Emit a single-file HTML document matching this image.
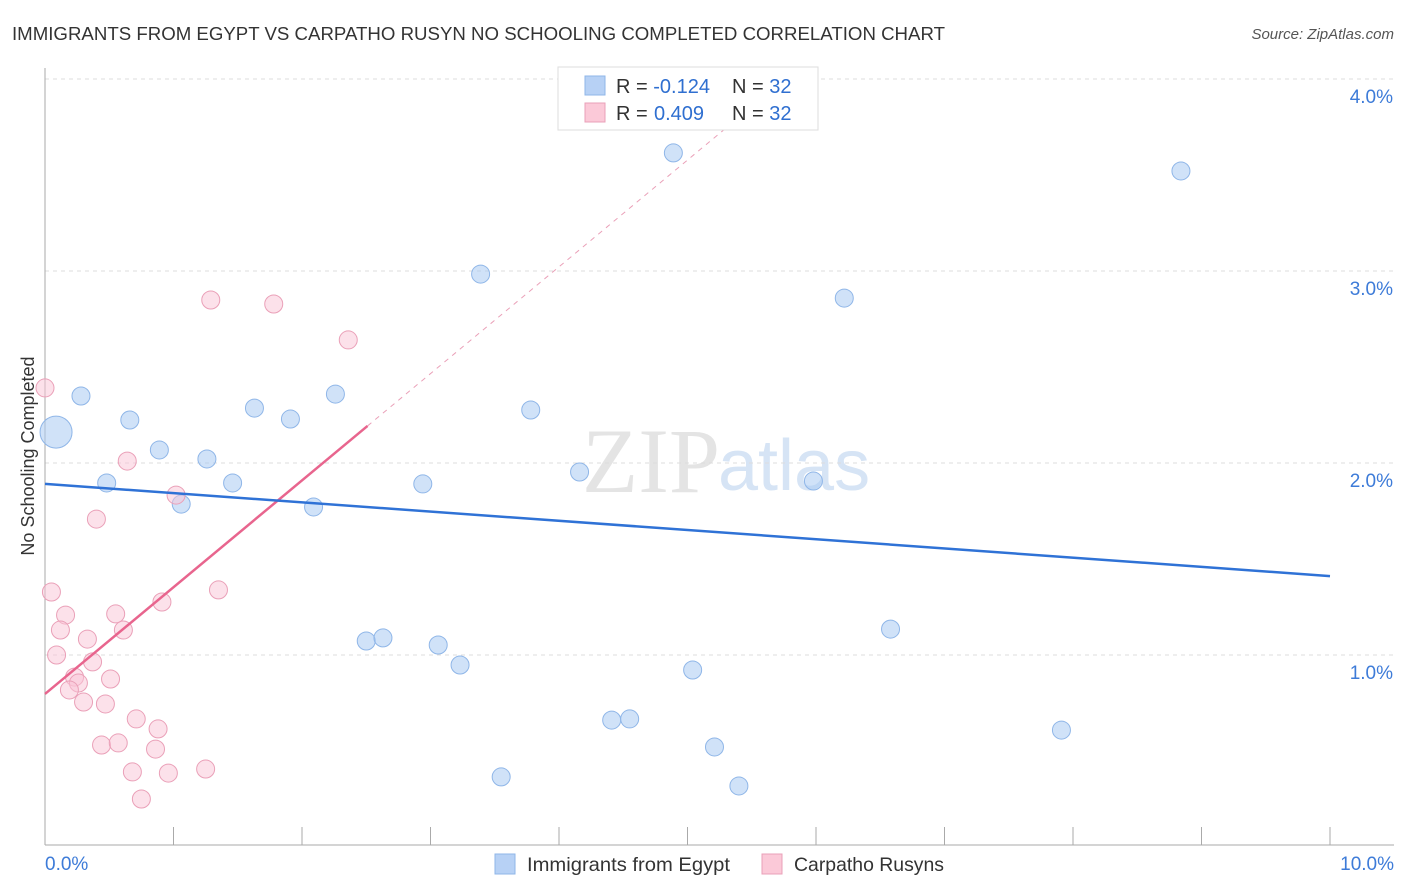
<!DOCTYPE html>
<html><head><meta charset="utf-8"><style>
body{margin:0;background:#fff;font-family:"Liberation Sans",sans-serif}
svg{display:block}
</style></head><body>
<svg id="c" width="1406" height="892" xmlns="http://www.w3.org/2000/svg">
<text x="12" y="40" font-size="18" fill="#333" textLength="933" lengthAdjust="spacingAndGlyphs">IMMIGRANTS FROM EGYPT VS CARPATHO RUSYN NO SCHOOLING COMPLETED CORRELATION CHART</text>
<text x="1394" y="39" font-size="15" fill="#555" font-style="italic" text-anchor="end">Source: ZipAtlas.com</text>
<text x="720" y="492" font-size="92" font-family="Liberation Serif" fill="#e4e4e4" text-anchor="end">ZIP</text>
<text x="718" y="490" font-size="72" fill="#d6e4f5">atlas</text>
<g id="grid"></g><g id="marks"></g>
<text transform="translate(34,456) rotate(-90)" font-size="18" fill="#333" text-anchor="middle">No Schooling Completed</text>
<g>
<rect x="558" y="67" width="260" height="63" fill="#fff" stroke="#ddd"/>
<rect x="585" y="76" width="20" height="19" fill="#b7d1f5" stroke="#8fb6e8"/>
<rect x="585" y="103" width="20" height="19" fill="#fbc9d8" stroke="#eaa0b8"/>
<text x="616" y="93" font-size="20" fill="#333">R = <tspan fill="#2f6fd0">-0.124</tspan><tspan x="732">N = </tspan><tspan fill="#2f6fd0">32</tspan></text>
<text x="616" y="120" font-size="20" fill="#333">R = <tspan fill="#2f6fd0" x="654">0.409</tspan><tspan x="732">N = </tspan><tspan fill="#2f6fd0">32</tspan></text>
</g>
<g>
<rect x="495" y="854" width="20" height="20" fill="#b7d1f5" stroke="#8fb6e8"/>
<text x="527" y="871" font-size="19.5" fill="#333" textLength="203" lengthAdjust="spacingAndGlyphs">Immigrants from Egypt</text>
<rect x="762" y="854" width="20" height="20" fill="#fbc9d8" stroke="#eaa0b8"/>
<text x="794" y="871" font-size="19.5" fill="#333" textLength="150" lengthAdjust="spacingAndGlyphs">Carpatho Rusyns</text>
</g>
</svg>
<script>
const blueX=[0.086,0.28,0.66,0.89,0.48,1.26,1.06,1.46,1.63,1.91,2.26,2.09,3.39,2.94,3.78,4.16,4.89,2.50,2.63,3.06,3.23,3.55,4.41,4.55,5.04,5.21,5.40,6.22,5.98,6.58,7.91,8.84];
const blueY=[2.161,2.349,2.224,2.068,1.896,2.021,1.786,1.896,2.286,2.229,2.359,1.771,2.984,1.891,2.276,1.953,3.615,1.073,1.089,1.052,0.948,0.365,0.661,0.667,0.922,0.521,0.318,2.859,1.906,1.135,0.609,3.521];
const pinkX=[0.05,0.16,0.12,0.09,0.33,0.55,0.61,0.37,0.23,0.26,0.19,0.30,0.51,0.47,0.71,0.88,0.44,0.57,0.86,0.68,0.96,0.75,1.25,0.91,1.35,0.40,0.64,1.02,1.29,1.78,2.36,0.0];
const pinkY=[1.328,1.208,1.130,1.0,1.083,1.214,1.130,0.964,0.885,0.854,0.818,0.755,0.875,0.745,0.667,0.615,0.531,0.542,0.510,0.391,0.385,0.25,0.406,1.276,1.339,1.708,2.010,1.833,2.849,2.828,2.641,2.391];
const yTicks=[1,2,3,4];
const yTickLabels=["1.0%","2.0%","3.0%","4.0%"];
const xTicks=[0,1,2,3,4,5,6,7,8,9,10];
const blueTrend=[1.891,1.411];
const pinkTrend=[0.797,2.193,2.51];
const NS="http://www.w3.org/2000/svg";
const sx=v=>45+v*128.5, sy=v=>847-v*192;
function mk(p,t,a){const e=document.createElementNS(NS,t);for(const k in a)e.setAttribute(k,a[k]);p.appendChild(e);return e;}
const g=document.getElementById('grid'),m=document.getElementById('marks');
yTicks.forEach((v,i)=>{
 const l=mk(g,'line',{x1:45,x2:1394,y1:sy(v),y2:sy(v),stroke:'#ddd','stroke-dasharray':'4,4'});
 
 
 const t=mk(g,'text',{x:1393,y:sy(v)+24,'font-size':19,fill:'#3d7bd8','text-anchor':'end'});t.textContent=yTickLabels[i];
 
 
});
const ax=mk(g,'line',{x1:45,x2:1394,y1:845,y2:845,stroke:'#aaa'});


const ay=mk(g,'line',{x1:45,x2:45,y1:68,y2:845,stroke:'#aaa'});


xTicks.forEach(v=>{const l=mk(g,'line',{x1:sx(v),x2:sx(v),y1:827,y2:845,stroke:'#aaa'});
 
 });
const t0=mk(g,'text',{x:45,y:870,'font-size':19,fill:'#3d7bd8'});t0.textContent='0.0%';


const t1=mk(g,'text',{x:1394,y:870,'font-size':19,fill:'#3d7bd8','text-anchor':'end'});t1.textContent='10.0%';


blueX.forEach((x,i)=>{const c=mk(m,'circle',{cx:sx(x),cy:sy(blueY[i]),r:i==0?16:9,fill:'rgba(170,202,242,0.55)',stroke:'#8fb6e8'});
 
 });
pinkX.forEach((x,i)=>{const c=mk(m,'circle',{cx:sx(x),cy:sy(pinkY[i]),r:9,fill:'rgba(250,196,214,0.5)',stroke:'#eaa0b8'});
 
 });
const slope=(pinkTrend[1]-pinkTrend[0])/pinkTrend[2];
const xe=(3.95-pinkTrend[0])/slope;
const pd=mk(m,'line',{x1:sx(pinkTrend[2]),y1:sy(pinkTrend[1]),x2:sx(xe),y2:sy(3.95),stroke:'#eaa0b8','stroke-dasharray':'5,5'});


const pl=mk(m,'line',{x1:sx(0),y1:sy(pinkTrend[0]),x2:sx(pinkTrend[2]),y2:sy(pinkTrend[1]),stroke:'#e8658e','stroke-width':2.5});


const bl=mk(m,'line',{x1:sx(0),y1:sy(blueTrend[0]),x2:sx(10),y2:sy(blueTrend[1]),stroke:'#2f72d6','stroke-width':2.5});


</script>
</body></html>
